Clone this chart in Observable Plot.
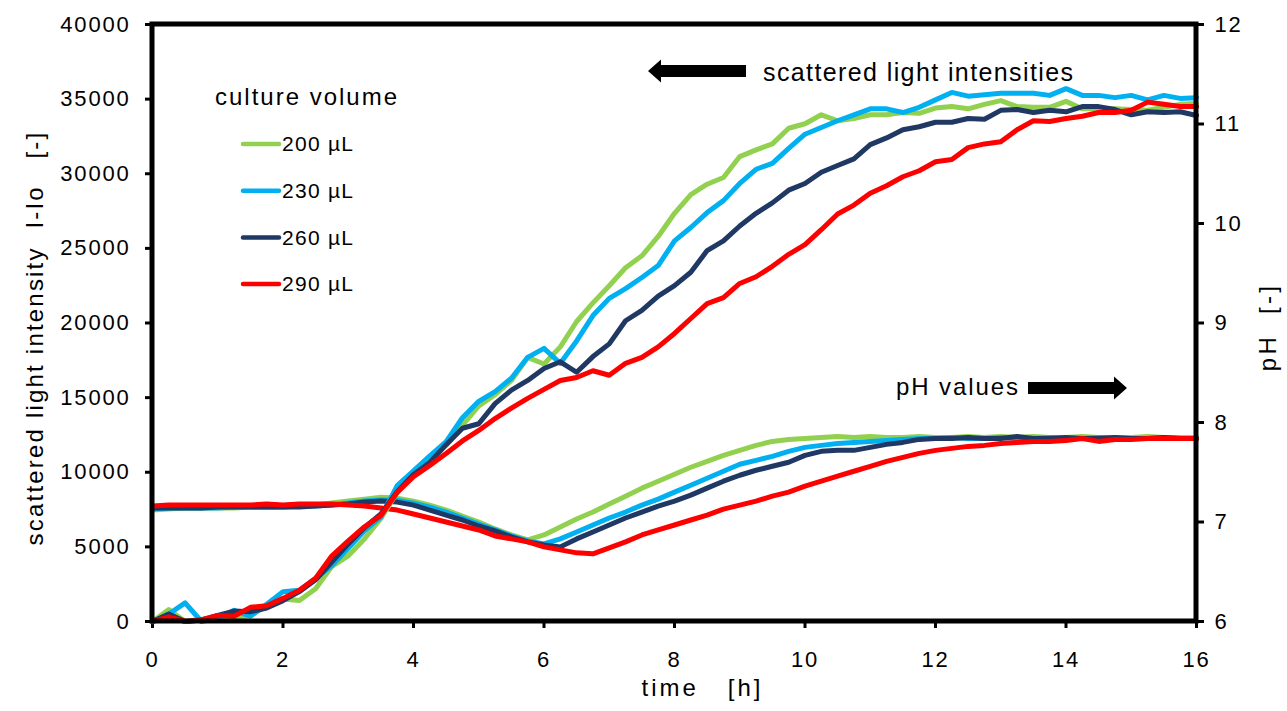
<!DOCTYPE html>
<html><head><meta charset="utf-8">
<script src="https://cdn.jsdelivr.net/npm/d3@7"></script>
<script src="https://cdn.jsdelivr.net/npm/@observablehq/plot@0.6"></script>
<style>
html,body{margin:0;padding:0;background:#fff;}
#chart svg{display:block;}
#chart svg text{font-family:"Liberation Sans",Arial,sans-serif;white-space:pre;fill:#000;}
</style></head><body><div id="chart"></div>
<script>
// ---- data ----
const time = [0,0.25,0.5,0.75,1,1.25,1.5,1.75,2,2.25,2.5,2.75,3,3.25,3.5,3.75,4,4.25,4.5,4.75,5,5.25,5.5,5.75,6,6.25,6.5,6.75,7,7.25,7.5,7.75,8,8.25,8.5,8.75,9,9.25,9.5,9.75,10,10.25,10.5,10.75,11,11.25,11.5,11.75,12,12.25,12.5,12.75,13,13.25,13.5,13.75,14,14.25,14.5,14.75,15,15.25,15.5,15.75,16];
const series = ["200 µL","230 µL","260 µL","290 µL"];
const colors = ["#92D050","#00B0F0","#1F3864","#FF0000"];

const light200 = [0,800,0,150,200,100,450,1000,1500,1400,2200,3700,4400,5550,6900,8650,9850,10900,11800,13150,14450,15200,16150,17700,17250,18400,20100,21350,22500,23700,24500,25800,27350,28600,29300,29750,31150,31600,32000,33050,33350,33950,33550,33700,33950,33950,34100,34050,34400,34500,34350,34650,34900,34500,34450,34450,34850,34350,34350,34350,34300,34250,34450,34650,34700];
const light230 = [0,500,1250,0,200,750,350,1150,2000,2100,2900,3750,4900,6100,7000,9100,10100,11100,12050,13650,14750,15400,16300,17700,18300,17300,18800,20500,21650,22300,23050,23850,25500,26400,27400,28200,29350,30300,30700,31700,32650,33100,33550,33950,34350,34350,34100,34450,34950,35450,35200,35300,35400,35400,35400,35250,35700,35250,35250,35100,35250,34950,35250,35050,35100];
const light260 = [0,500,0,100,400,700,650,900,1400,2000,2800,4000,5200,6300,7200,8700,9850,10650,11850,12950,13250,14600,15500,16150,16950,17400,16700,17750,18600,20150,20850,21800,22500,23400,24850,25500,26500,27350,28050,28900,29350,30100,30550,31000,31950,32400,32950,33150,33450,33450,33700,33650,34250,34300,34100,34250,34150,34500,34500,34300,33950,34150,34100,34150,33900];
const light290 = [0,300,0,100,400,350,950,1050,1550,2100,2900,4400,5400,6350,7100,8650,9700,10450,11250,12100,12800,13600,14300,14950,15550,16150,16350,16800,16500,17300,17700,18400,19300,20300,21300,21700,22650,23100,23800,24600,25250,26250,27300,27900,28700,29200,29800,30200,30800,30950,31750,32000,32150,32950,33550,33500,33700,33850,34100,34100,34250,34800,34650,34500,34500];

const pH200 = [7.12,7.13,7.14,7.14,7.14,7.14,7.15,7.15,7.15,7.16,7.17,7.19,7.21,7.23,7.25,7.24,7.21,7.17,7.12,7.06,7.00,6.93,6.87,6.82,6.87,6.95,7.03,7.10,7.18,7.26,7.34,7.41,7.48,7.55,7.61,7.67,7.72,7.77,7.81,7.83,7.84,7.85,7.86,7.85,7.86,7.85,7.85,7.86,7.85,7.85,7.86,7.85,7.86,7.85,7.86,7.85,7.85,7.86,7.85,7.85,7.85,7.86,7.85,7.85,7.85];
const pH230 = [7.13,7.14,7.14,7.14,7.14,7.15,7.15,7.15,7.15,7.16,7.16,7.17,7.19,7.21,7.22,7.22,7.19,7.15,7.10,7.04,6.98,6.92,6.86,6.81,6.78,6.83,6.90,6.97,7.04,7.10,7.17,7.23,7.30,7.37,7.44,7.51,7.58,7.62,7.66,7.71,7.75,7.77,7.79,7.80,7.81,7.82,7.83,7.84,7.84,7.85,7.84,7.84,7.85,7.84,7.84,7.85,7.84,7.84,7.85,7.84,7.84,7.84,7.85,7.84,7.84];
const pH260 = [7.14,7.14,7.14,7.14,7.15,7.15,7.15,7.15,7.15,7.15,7.16,7.17,7.18,7.20,7.21,7.20,7.17,7.12,7.07,7.02,6.96,6.91,6.85,6.80,6.77,6.75,6.83,6.90,6.97,7.04,7.10,7.16,7.21,7.27,7.34,7.41,7.47,7.52,7.56,7.60,7.67,7.71,7.72,7.72,7.75,7.78,7.80,7.83,7.84,7.84,7.85,7.84,7.84,7.86,7.84,7.84,7.85,7.84,7.84,7.85,7.84,7.84,7.85,7.84,7.84];
const pH290 = [7.16,7.17,7.17,7.17,7.17,7.17,7.17,7.18,7.17,7.18,7.18,7.18,7.17,7.16,7.14,7.12,7.08,7.04,7.00,6.96,6.92,6.86,6.83,6.80,6.75,6.72,6.69,6.68,6.74,6.80,6.87,6.92,6.97,7.02,7.07,7.13,7.17,7.21,7.26,7.30,7.36,7.41,7.46,7.51,7.56,7.61,7.65,7.69,7.72,7.74,7.76,7.77,7.79,7.80,7.81,7.81,7.82,7.84,7.81,7.83,7.83,7.84,7.84,7.84,7.84];

const xTicks = [0,2,4,6,8,10,12,14,16];
const yTicks = [0,5000,10000,15000,20000,25000,30000,35000,40000];
const pHTicks = [6,7,8,9,10,11,12];

// ---- build tables ----
const yMax = 40000, pHLo = 6, pHHi = 12;
const toLeft = p => (p - pHLo) / (pHHi - pHLo) * yMax;
const fromLeft = v => pHLo + v / yMax * (pHHi - pHLo);

const lightRows = [], pHRows = [];
[light200, light230, light260, light290].forEach((arr, si) =>
  arr.forEach((v, i) => lightRows.push({t: time[i], v, s: series[si]})));
[pH200, pH230, pH260, pH290].forEach((arr, si) =>
  arr.forEach((p, i) => pHRows.push({t: time[i], v: toLeft(p), s: series[si]})));

const chart = Plot.plot({
  width: 1287, height: 711,
  marginLeft: 152, marginRight: 91, marginTop: 24, marginBottom: 90,
  style: {background: "#fff", overflow: "visible", fontFamily: "Liberation Sans, Arial, sans-serif", color: "#000"},
  x: {domain: [0, 16]},
  y: {domain: [0, yMax]},
  color: {domain: series, range: colors},
  marks: [
    Plot.axisX({ticks: xTicks, tickSize: 7, tickPadding: 23, fontSize: 22, strokeWidth: 3, label: null, tickFormat: d => String(d)}),
    Plot.axisY({ticks: yTicks, tickSize: 7, tickPadding: 15, fontSize: 22, strokeWidth: 3, label: null, tickFormat: d => String(d)}),
    Plot.axisY({anchor: "right", ticks: pHTicks.map(toLeft), tickSize: 7, tickPadding: 11, fontSize: 22, strokeWidth: 3, label: null, tickFormat: d => String(Math.round(fromLeft(d)))}),
    Plot.line(pHRows, {x: "t", y: "v", z: "s", stroke: "s", strokeWidth: 5, strokeLinejoin: "round", strokeLinecap: "round"}),
    Plot.line(lightRows, {x: "t", y: "v", z: "s", stroke: "s", strokeWidth: 5, strokeLinejoin: "round", strokeLinecap: "round"}),
    Plot.text(["time   [h]"], {frameAnchor: "bottom", textAnchor: "middle", dx: 28, dy: 74, fontSize: 24}),
    Plot.text(["scattered light intensity  I-Io   [-]"], {frameAnchor: "left", textAnchor: "middle", dx: -117, dy: 15, rotate: -90, fontSize: 24}),
    Plot.text(["pH  [-]"], {frameAnchor: "right", textAnchor: "middle", dx: 72, dy: 4, rotate: -90, fontSize: 24})
  ]
});
document.getElementById("chart").appendChild(chart);

const svg = d3.select(chart);
const sx = chart.scale("x"), sy = chart.scale("y");
const X0 = sx.apply(0), X1 = sx.apply(16), Y0 = sy.apply(0), Y1 = sy.apply(yMax);

// thick black frame round the plot area
svg.append("rect").attr("x", X0).attr("y", Y1).attr("width", X1 - X0).attr("height", Y0 - Y1)
  .attr("fill", "none").attr("stroke", "#000").attr("stroke-width", 5);

// ---- text spacing to match the reference's wide lettering ----
svg.selectAll('g[aria-label$="tick label"] text').style("letter-spacing", "1.8px");
const spacing = {"time   [h]": "3px", "scattered light intensity  I-Io   [-]": "2.2px", "pH  [-]": "3.3px"};
svg.selectAll("text").each(function () {
  const s = spacing[this.textContent];
  if (s) this.style.letterSpacing = s;
});

// ---- legend (inside plot area, top-left) ----
const lg = svg.append("g").attr("text-anchor", "start");
lg.append("text").attr("x", 215).attr("y", 97).attr("dy", "0.35em").attr("font-size", 24)
  .attr("textLength", 182).attr("lengthAdjust", "spacing").text("culture volume");
series.forEach((s, i) => {
  const y = 144 + i * 46.7;
  lg.append("line").attr("x1", 243).attr("x2", 279).attr("y1", y).attr("y2", y)
    .attr("stroke", colors[i]).attr("stroke-width", 4.5).attr("stroke-linecap", "round");
  lg.append("text").attr("x", 282).attr("y", y).attr("dy", "0.35em").attr("font-size", 21)
    .attr("textLength", 71).attr("lengthAdjust", "spacing").text(s);
});

// ---- annotations: block arrows and labels ----
const an = svg.append("g").attr("text-anchor", "start");
function blockArrow(xTail, xTip, yc, dir) {
  const headLen = 13, barH = 6, headH = 11.5;
  const xBase = xTip - dir * headLen;
  const pts = [[xTail, yc - barH], [xBase, yc - barH], [xBase, yc - headH], [xTip, yc],
               [xBase, yc + headH], [xBase, yc + barH], [xTail, yc + barH]];
  an.append("polygon").attr("points", pts.map(p => p.join(",")).join(" ")).attr("fill", "#000");
}
blockArrow(746, 648, 71, -1);
an.append("text").attr("x", 763).attr("y", 72).attr("dy", "0.35em").attr("font-size", 25)
  .attr("textLength", 310).attr("lengthAdjust", "spacing").text("scattered light intensities");
blockArrow(1028, 1127, 388, 1);
an.append("text").attr("x", 896).attr("y", 387).attr("dy", "0.35em").attr("font-size", 24)
  .attr("textLength", 122).attr("lengthAdjust", "spacing").text("pH values");
</script></body></html>
